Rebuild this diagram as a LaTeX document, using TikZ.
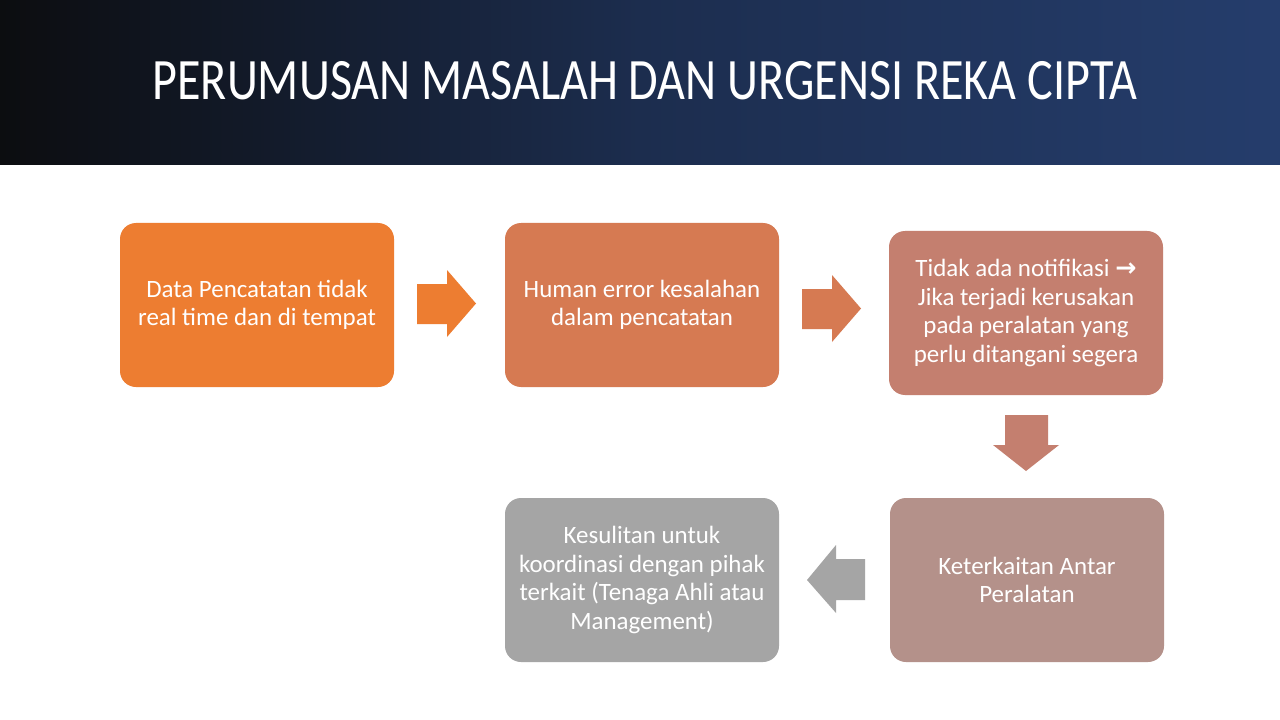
\documentclass[tikz,border=0pt]{standalone}
\usepackage{fontspec}
\setmainfont{Carlito}
\newfontfamily\arrowfont{DejaVu Sans}
\definecolor{hdrL}{HTML}{0C0D10}
\definecolor{hdrM}{HTML}{1C2D4E}
\definecolor{hdrR}{HTML}{253D6C}
\definecolor{cA}{HTML}{ED7D31}
\definecolor{cB}{HTML}{D67A52}
\definecolor{cC}{HTML}{C47F6F}
\definecolor{cD}{HTML}{B4918A}
\definecolor{cE}{HTML}{A5A5A5}
\tikzset{
  box/.style={rounded corners=12pt, minimum width=205.5pt, minimum height=123pt,
    align=center, text=white, font=\fontsize{18.7}{21.3}\selectfont, inner sep=0pt},
}
\begin{document}
\begin{tikzpicture}[x=0.75pt,y=-0.75pt]
\useasboundingbox (0,0) rectangle (1280,720);
\fill[white] (0,0) rectangle (1280,720);
\shade[left color=hdrL, right color=hdrR, middle color=hdrM] (0,0) rectangle (1280,165);
\node[text=white, font=\fontsize{44}{52}\selectfont] (title) at (645,81) {\scalebox{0.82}[1]{PERUMUSAN MASALAH DAN URGENSI REKA CIPTA}};
\node[box, fill=cA] (b1) at (257,305) {Data Pencatatan tidak\\real time dan di tempat};
\node[box, fill=cB] (b2) at (642,305) {Human error kesalahan\\dalam pencatatan};
\node[box, fill=cC] (b3) at (1026,313) {Tidak ada notifikasi {\arrowfont\bfseries\fontsize{19}{18}\selectfont →}\\Jika terjadi kerusakan\\pada peralatan yang\\perlu ditangani segera};
\node[box, fill=cD] (b4) at (1027,580) {Keterkaitan Antar\\Peralatan};
\node[box, fill=cE] (b5) at (642,580) {Kesulitan untuk\\koordinasi dengan pihak\\terkait (Tenaga Ahli atau\\Management)};
% block arrows
\fill[cA] (417,284) -- (447,284) -- (447,270) -- (476,303.5) -- (447,337) -- (447,324) -- (417,324) -- cycle;
\fill[cB] (802,289) -- (832,289) -- (832,275) -- (861,308.5) -- (832,342) -- (832,329) -- (802,329) -- cycle;
\fill[cC] (1005,415) -- (1048,415) -- (1048,445) -- (1059,445) -- (1026,471) -- (993,445) -- (1005,445) -- cycle;
\fill[cE] (865,559) -- (865,600) -- (836,600) -- (836,613) -- (807,580) -- (836,545) -- (836,559) -- cycle;
\end{tikzpicture}
\end{document}
